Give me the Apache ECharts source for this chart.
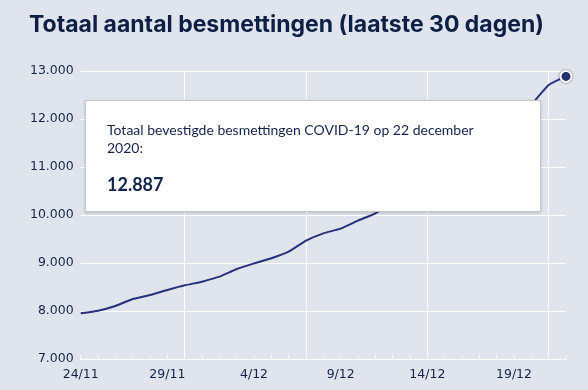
<!DOCTYPE html>
<html>
<head>
<meta charset="utf-8">
<script src="https://cdn.jsdelivr.net/npm/echarts@6/dist/echarts.min.js"></script>
<style>
  html, body { margin: 0; padding: 0; background: #e0e4ec; }
  #chart { width: 588px; height: 390px; }
</style>
</head>
<body>
<div id="chart"></div>
<script>
const titleText = 'Totaal aantal besmettingen (laatste 30 dagen)';
const categories = ['24/11','25/11','26/11','27/11','28/11','29/11','30/11',
  '1/12','2/12','3/12','4/12','5/12','6/12','7/12','8/12','9/12','10/12','11/12',
  '12/12','13/12','14/12','15/12','16/12','17/12','18/12','19/12','20/12','21/12','22/12'];
const values = [7952, 8006, 8104, 8250, 8333, 8437, 8535, 8611, 8715, 8875, 8993, 9098,
  9236, 9465, 9618, 9715, 9882, 10035, 10250, 10480, 10720, 10950, 11220, 11480, 11760,
  12030, 12300, 12708, 12887];
const weekLines = ['30/11', '7/12', '14/12', '21/12'];
const yTicks = [7000, 8000, 9000, 10000, 11000, 12000, 13000];
const tooltipLabel = 'Totaal bevestigde besmettingen COVID-19 op';
const tooltipDate = '22 december 2020';

function fmt(v) { return String(v).replace(/\B(?=(\d{3})+(?!\d))/g, '.'); }

const navy = '#27317c';
const textColor = '#13244a';
const lastIdx = values.length - 1;

const chart = echarts.init(document.getElementById('chart'));
chart.setOption({
  backgroundColor: '#e0e4ec',
  animation: false,
  title: {
    text: titleText,
    left: 24, top: 9,
    textStyle: { fontFamily: 'Inter', fontWeight: 'bold', fontSize: 23, color: '#0d1f45' }
  },
  grid: { left: 80.7, right: 22, top: 71, bottom: 31, containLabel: false },
  tooltip: {
    trigger: 'item',
    alwaysShowContent: true,
    transitionDuration: 0,
    position: [85, 100],
    backgroundColor: '#ffffff',
    borderColor: '#c4c7cc',
    borderWidth: 1,
    padding: [20, 30, 17, 21],
    extraCssText: 'box-sizing:border-box;width:456px;height:112px;white-space:normal;border-radius:0;box-shadow:0 1px 3px rgba(0,0,0,0.18);',
    formatter: function (p) {
      return '<div style="font-family:Lato;font-size:14px;line-height:17.5px;color:' + textColor + ';white-space:normal;">' +
        tooltipLabel + ' ' + tooltipDate + ':</div>' +
        '<div style="font-family:Lato;font-weight:bold;font-size:18px;line-height:22px;margin-top:17px;color:' + textColor + ';">' +
        fmt(p.value) + '</div>';
    }
  },
  xAxis: {
    type: 'category',
    data: categories,
    boundaryGap: false,
    axisLine: { lineStyle: { color: '#ffffff', width: 1 } },
    axisTick: { show: true, inside: true, length: 4, interval: 0, lineStyle: { color: '#ffffff' } },
    axisLabel: { interval: 4, margin: 9, fontFamily: 'DejaVu Sans', fontSize: 12.5, color: textColor },
    splitLine: {
      show: true,
      interval: function (idx, val) { return weekLines.indexOf(categories[idx]) >= 0; },
      lineStyle: { color: '#ffffff', width: 1 }
    }
  },
  yAxis: {
    type: 'value',
    min: yTicks[0], max: yTicks[yTicks.length - 1], interval: 1000,
    axisLine: { show: false },
    axisTick: { show: false },
    axisLabel: { margin: 7, fontFamily: 'DejaVu Sans', fontSize: 12.5, color: textColor, formatter: fmt },
    splitLine: { lineStyle: { color: '#ffffff', width: 1 } }
  },
  series: [{
    type: 'line',
    data: values.map(function (v, i) {
      return i === lastIdx ? {
        value: v, symbol: 'circle', symbolSize: 11,
        itemStyle: { color: navy, borderColor: '#ffffff', borderWidth: 2, shadowBlur: 2, shadowColor: 'rgba(0,0,0,0.55)' }
      } : { value: v, symbol: 'none' };
    }),
    showSymbol: true,
    clip: false,
    smooth: 0.15,
    lineStyle: { color: navy, width: 2 },
    itemStyle: { color: navy },
    emphasis: { disabled: true }
  }]
});
chart.dispatchAction({ type: 'showTip', seriesIndex: 0, dataIndex: lastIdx });
</script>
</body>
</html>
